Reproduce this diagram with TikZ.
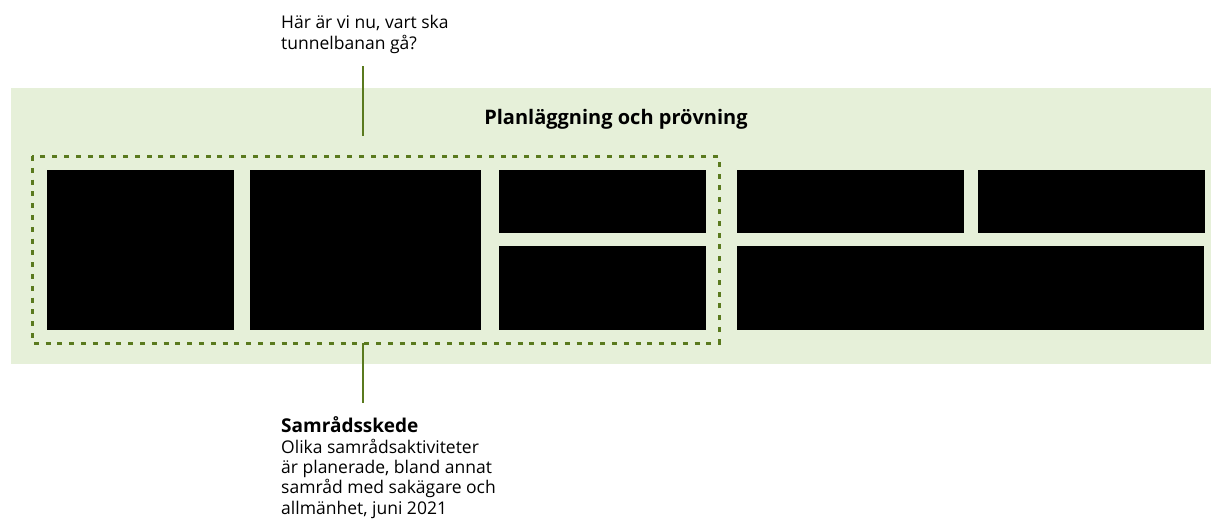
\documentclass[tikz,border=0pt]{standalone}
\usepackage{fontspec}
\setmainfont{Open Sans}
\definecolor{bggreen}{HTML}{E6F0D9}
\definecolor{darkgreen}{HTML}{5A7A1E}
\begin{document}
\begin{tikzpicture}[x=1pt,y=-1pt,
  blk/.style={fill=black,draw=none,inner sep=0,outer sep=0,anchor=north west},
  lbl/.style={inner sep=0,anchor=base west,align=left,font=\fontsize{17.5}{20.3}\selectfont},
  conn/.style={draw=darkgreen,line width=2pt},
  phase/.style={draw=darkgreen,line width=3pt,dash pattern=on 5pt off 6.8pt}]
\useasboundingbox (0,0) rectangle (1211,520);
\fill[bggreen] (11,88) rectangle (1211,364);
\node[inner sep=0,font=\bfseries\fontsize{20}{24}\selectfont,anchor=base] (title) at (616,124) {Planläggning och prövning};
% boxes
\node[blk,minimum width=187pt,minimum height=160pt] (b1) at (47,170) {};
\node[blk,minimum width=231pt,minimum height=160pt] (b2) at (250,170) {};
\node[blk,minimum width=207pt,minimum height=63pt] (b3) at (499,170) {};
\node[blk,minimum width=207pt,minimum height=84pt] (b4) at (499,246) {};
\node[blk,minimum width=227pt,minimum height=63pt] (b5) at (737,170) {};
\node[blk,minimum width=227pt,minimum height=63pt] (b6) at (978,170) {};
\node[blk,minimum width=467pt,minimum height=84pt] (b7) at (737,246) {};
% dashed phase box
\draw[phase] (32,156) rectangle (719,343);
\coordinate (pt) at (363,136);
\coordinate (pb) at (363,343);
% labels
\node[lbl] (q) at (281,49) {Här är vi nu, vart ska\\tunnelbanan gå?};
\node[lbl] (s) at (281,514) {{\bfseries\fontsize{19}{20.3}\selectfont Samrådsskede}\\Olika samrådsaktiviteter\\är planerade, bland annat\\samråd med sakägare och\\allmänhet, juni 2021};
\coordinate (qb) at (363,66);
\coordinate (st) at (363,403);
\draw[conn] (qb) -- (pt);
\draw[conn] (pb) -- (st);
\end{tikzpicture}
\end{document}
